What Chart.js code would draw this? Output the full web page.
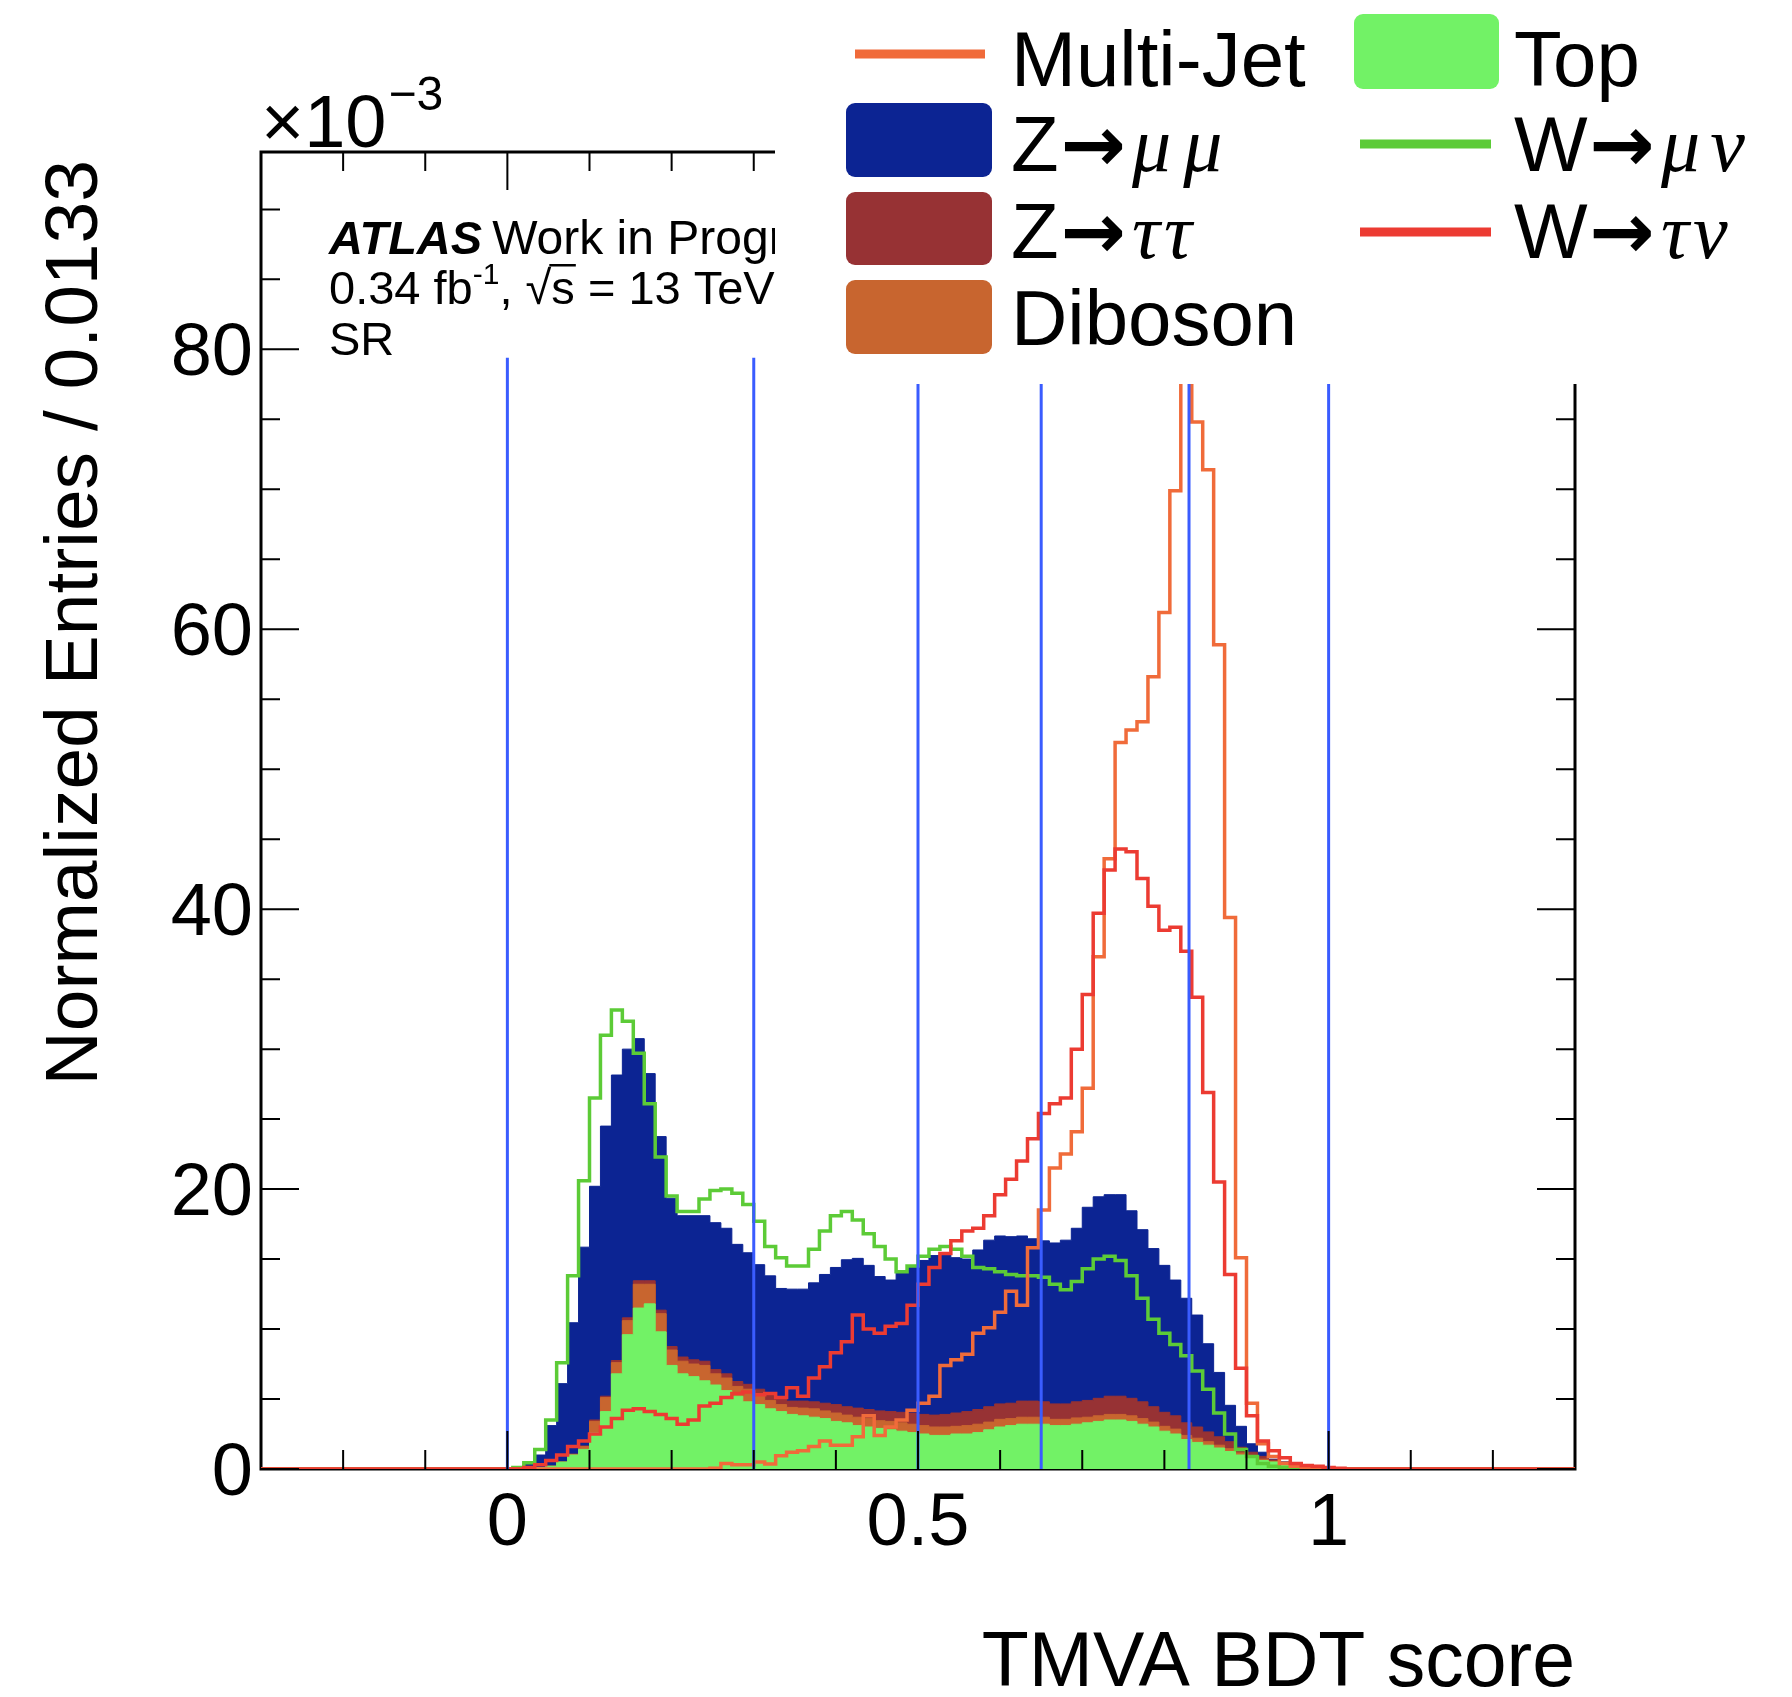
<!DOCTYPE html>
<html lang="en">
<head>
<meta charset="utf-8">
<title>TMVA BDT score</title>
<script src="https://cdn.jsdelivr.net/npm/chart.js@4.4.1/dist/chart.umd.min.js"></script>
<style>
  html, body { margin: 0; padding: 0; background: #fff; }
  #bdtChart { display: block; }
</style>
</head>
<body>
<canvas id="bdtChart" width="1792" height="1697"></canvas>
<script>
'use strict';

// ============================================
// BDT SCORE - normalized entries per bin (x 10^-3)
// 120 bins from -0.3 to 1.3 (width 0.0133)
// ============================================

// ===== AXES =====
const xMin = -0.3;
const xMax = 1.3;
const yMax = 94.1;
const xTickValues = [0, 0.5, 1];
const xTickLabels = ['0', '0.5', '1'];
const yTickValues = [0, 20, 40, 60, 80];
const yTickLabels = ['0', '20', '40', '60', '80'];

// ===== SELECTION CUTS (blue lines) =====
const cutValues = [0, 0.3, 0.5, 0.65, 0.83, 1.0];
const cutLineTop = 79.4;

// ===== STACKED BACKGROUNDS (bottom to top) =====
const topQuark = [
  0, 0, 0, 0, 0, 0, 0, 0, 0, 0, 0, 0, 0, 0, 0, 0, 0, 0, 0, 0,
  0, 0, 0, 0, 0, 0.1, 0.2, 0.5, 1.0, 1.4, 2.6, 4.1, 6.8, 9.6, 11.5, 11.8, 9.8, 7.4, 6.8, 6.6,
  6.3, 6.0, 5.6, 5.2, 4.8, 4.6, 4.3, 4.1, 3.9, 3.8, 3.7, 3.6, 3.4, 3.3, 3.1, 3.0, 2.9, 2.8, 2.7, 2.6,
  2.5, 2.4, 2.4, 2.5, 2.5, 2.6, 2.8, 3.0, 3.1, 3.2, 3.2, 3.2, 3.1, 3.1, 3.2, 3.3, 3.4, 3.5, 3.5, 3.4,
  3.2, 3.0, 2.7, 2.5, 2.1, 1.9, 1.7, 1.5, 1.25, 1.0, 0.8, 0.6, 0.5, 0.4, 0.3, 0.25, 0.2, 0.1, 0.05, 0,
  0, 0, 0, 0, 0, 0, 0, 0, 0, 0, 0, 0, 0, 0, 0, 0, 0, 0, 0, 0
];
const diboson = [
  0, 0, 0, 0, 0, 0, 0, 0, 0, 0, 0, 0, 0, 0, 0, 0, 0, 0, 0, 0,
  0, 0, 0, 0, 0, 0, 0, 0, 0.05, 0.2, 0.8, 1.0, 0.8, 1.0, 1.7, 1.4, 1.3, 1.1, 0.9, 0.9,
  1.1, 0.8, 0.9, 0.7, 0.9, 0.7, 0.6, 0.5, 0.5, 0.55, 0.6, 0.55, 0.6, 0.55, 0.6, 0.6, 0.55, 0.6, 0.6, 0.6,
  0.6, 0.6, 0.6, 0.55, 0.6, 0.6, 0.55, 0.55, 0.5, 0.5, 0.5, 0.5, 0.45, 0.45, 0.45, 0.4, 0.4, 0.4, 0.4, 0.4,
  0.4, 0.35, 0.35, 0.35, 0.3, 0.3, 0.25, 0.2, 0.2, 0.15, 0.1, 0.1, 0.05, 0.05, 0, 0, 0, 0, 0, 0,
  0, 0, 0, 0, 0, 0, 0, 0, 0, 0, 0, 0, 0, 0, 0, 0, 0, 0, 0, 0
];
const zTauTau = [
  0, 0, 0, 0, 0, 0, 0, 0, 0, 0, 0, 0, 0, 0, 0, 0, 0, 0, 0, 0,
  0, 0, 0, 0, 0, 0, 0, 0, 0, 0.05, 0.1, 0.1, 0.15, 0.2, 0.25, 0.25, 0.25, 0.25, 0.3, 0.3,
  0.3, 0.3, 0.3, 0.35, 0.35, 0.4, 0.4, 0.4, 0.45, 0.5, 0.5, 0.55, 0.6, 0.6, 0.65, 0.65, 0.7, 0.7, 0.75, 0.8,
  0.8, 0.85, 0.9, 0.95, 1.0, 1.05, 1.1, 1.1, 1.1, 1.15, 1.15, 1.1, 1.1, 1.1, 1.15, 1.2, 1.25, 1.3, 1.3, 1.25,
  1.2, 1.1, 1.0, 0.95, 0.9, 0.8, 0.7, 0.6, 0.5, 0.4, 0.3, 0.2, 0.1, 0.05, 0, 0, 0, 0, 0, 0,
  0, 0, 0, 0, 0, 0, 0, 0, 0, 0, 0, 0, 0, 0, 0, 0, 0, 0, 0, 0
];
const zMuMu = [
  0, 0, 0, 0, 0, 0, 0, 0, 0, 0, 0, 0, 0, 0, 0, 0, 0, 0, 0, 0,
  0, 0, 0, 0.1, 0.4, 0.9, 2.9, 5.6, 9.4, 14.2, 16.7, 19.3, 20.4, 19.2, 17.3, 14.8, 12.4, 10.6, 10.1, 10.3,
  10.4, 10.5, 10.4, 9.8, 9.4, 8.9, 8.5, 7.9, 8.0, 8.0, 8.5, 9.2, 9.8, 10.5, 10.7, 10.3, 9.6, 9.4, 10.0, 10.5,
  11.0, 11.4, 11.4, 11.1, 10.9, 11.4, 11.9, 12.0, 11.9, 11.8, 11.6, 11.5, 11.5, 11.7, 12.4, 13.8, 14.4, 14.4, 14.4, 13.4,
  12.3, 11.3, 10.5, 9.7, 8.9, 8.0, 6.3, 4.6, 2.6, 1.5, 0.6, 0.3, 0.05, 0, 0, 0, 0, 0, 0, 0,
  0, 0, 0, 0, 0, 0, 0, 0, 0, 0, 0, 0, 0, 0, 0, 0, 0, 0, 0, 0
];

// ===== OVERLAID SHAPES (lines) =====
const multiJet = [
  0, 0, 0, 0, 0, 0, 0, 0, 0, 0, 0, 0, 0, 0, 0, 0, 0, 0, 0, 0,
  0, 0, 0, 0, 0, 0, 0, 0, 0, 0, 0, 0, 0, 0, 0, 0, 0, 0, 0, 0,
  0, 0.05, 0.4, 0.3, 0.3, 0.5, 0.35, 0.95, 1.2, 1.3, 1.6, 2.0, 1.7, 1.7, 2.3, 3.8, 2.4, 3.0, 3.5, 4.2,
  4.7, 5.2, 7.4, 7.8, 8.2, 9.7, 10.1, 11.2, 12.7, 11.7, 15.8, 18.5, 21.5, 22.5, 24.1, 27.2, 36.6, 43.6, 51.9, 52.8,
  53.4, 56.6, 61.2, 69.9, 89.5, 74.8, 71.4, 58.9, 39.4, 15.1, 4.7, 1.8, 0.9, 0.4, 0.2, 0.1, 0, 0, 0, 0,
  0, 0, 0, 0, 0, 0, 0, 0, 0, 0, 0, 0, 0, 0, 0, 0, 0, 0, 0, 0
];
const wMuNu = [
  0, 0, 0, 0, 0, 0, 0, 0, 0, 0, 0, 0, 0, 0, 0, 0, 0, 0, 0, 0,
  0, 0, 0, 0.1, 0.45, 1.4, 3.5, 7.6, 13.8, 20.6, 26.5, 31.0, 32.8, 32.0, 29.7, 26.1, 22.3, 19.5, 18.4, 18.4,
  19.3, 19.9, 20.0, 19.7, 18.9, 17.7, 15.9, 15.1, 14.5, 14.5, 15.7, 17.0, 18.1, 18.4, 17.8, 16.8, 15.9, 15.0, 14.1, 14.5,
  15.2, 15.7, 15.9, 15.7, 15.2, 14.4, 14.3, 14.1, 13.9, 13.8, 13.8, 13.7, 13.2, 12.8, 13.4, 14.3, 15.0, 15.2, 14.9, 13.8,
  12.2, 10.7, 9.7, 8.9, 8.1, 7.0, 5.7, 4.0, 2.5, 1.4, 0.9, 0.4, 0.2, 0.1, 0, 0, 0, 0, 0, 0,
  0, 0, 0, 0, 0, 0, 0, 0, 0, 0, 0, 0, 0, 0, 0, 0, 0, 0, 0, 0
];
const wTauNu = [
  0, 0, 0, 0, 0, 0, 0, 0, 0, 0, 0, 0, 0, 0, 0, 0, 0, 0, 0, 0,
  0, 0, 0, 0, 0.1, 0.3, 0.6, 1.0, 1.6, 2.0, 2.5, 3.0, 3.6, 4.2, 4.3, 4.1, 3.9, 3.6, 3.2, 3.5,
  4.5, 4.7, 5.1, 5.4, 5.5, 5.3, 5.4, 5.1, 5.8, 5.2, 6.5, 7.3, 8.3, 9.1, 11.0, 10.0, 9.7, 10.2, 10.4, 11.7,
  13.2, 14.4, 15.4, 16.3, 17.0, 17.2, 18.1, 19.6, 20.7, 22.0, 23.6, 25.4, 26.1, 26.5, 30.0, 33.9, 39.7, 42.8, 44.3, 44.1,
  42.2, 40.2, 38.5, 38.7, 37.0, 33.7, 26.9, 20.5, 13.9, 7.2, 3.8, 2.0, 1.3, 0.8, 0.4, 0.25, 0.2, 0.1, 0.05, 0,
  0, 0, 0, 0, 0, 0, 0, 0, 0, 0, 0, 0, 0, 0, 0, 0, 0, 0, 0, 0
];

// ===== COULEURS =====
const COL = {
  top: '#72f266',
  diboson: '#c8652f',
  ztautau: '#973234',
  zmumu: '#0c2493',
  multijet: '#f06b3a',
  wmunu: '#5ccb37',
  wtaunu: '#ec3b32',
  cut: '#3a5cff'
};
const SANS = '"Liberation Sans", Arial, sans-serif';
const GREEK = 'italic 78px "Liberation Serif", "DejaVu Serif", serif';
const ARROW = 'bold 78px "DejaVu Sans", sans-serif';

// ===== HISTOGRAM HELPERS =====
// one point per low bin edge, stepped so that each value covers its own bin
function stepPoints(values) {
  const w = (xMax - xMin) / values.length;
  const pts = values.map(function(v, i) { return { x: xMin + i * w, y: v }; });
  pts.push({ x: xMax, y: values[values.length - 1] });
  return pts;
}

function addArrays(a, b) {
  return a.map(function(v, i) { return v + b[i]; });
}

function histFill(label, values, color, order) {
  return {
    label: label, data: stepPoints(values), stepped: true, fill: 'origin',
    backgroundColor: color, borderColor: color, borderWidth: 1, pointRadius: 0, order: order
  };
}

function histLine(label, values, color, order) {
  return {
    label: label, data: stepPoints(values), stepped: true, fill: false,
    borderColor: color, borderWidth: 3.5, pointRadius: 0, order: order
  };
}

// stack sums (drawn from the tallest down, each filled to zero)
const sumTop = topQuark;
const sumDiboson = addArrays(sumTop, diboson);
const sumZtautau = addArrays(sumDiboson, zTauTau);
const sumZmumu = addArrays(sumZtautau, zMuMu);

const datasets = [
  histFill('Z→μμ', sumZmumu, COL.zmumu, 10),
  histFill('Z→ττ', sumZtautau, COL.ztautau, 9),
  histFill('Diboson', sumDiboson, COL.diboson, 8),
  histFill('Top', sumTop, COL.top, 7),
  histLine('W→μν', wMuNu, COL.wmunu, 6),
  histLine('Multi-Jet', multiJet, COL.multijet, 5),
  histLine('W→τν', wTauNu, COL.wtaunu, 4)
];
cutValues.forEach(function(c) {
  datasets.push({
    label: 'cut ' + c,
    data: [{ x: c, y: 0 }, { x: c, y: cutLineTop }],
    borderColor: COL.cut, borderWidth: 3, pointRadius: 0, fill: false, order: 1
  });
});

// ===== TEXT HELPERS =====
function drawParts(ctx, parts, x, y) {
  parts.forEach(function(p) {
    ctx.font = p.font;
    ctx.fillText(p.text, x, y + (p.dy || 0));
    x += ctx.measureText(p.text).width + (p.gap || 0);
  });
  return x;
}

function roundBox(ctx, x, y, w, h, r, color) {
  ctx.fillStyle = color;
  ctx.beginPath();
  ctx.roundRect(x, y, w, h, r);
  ctx.fill();
}

// ===== ROOT STYLE FRAME, TICKS, LABELS, LEGEND =====
const rootFrame = {
  id: 'rootFrame',
  beforeDatasetsDraw: function(chart) {
    const ctx = chart.ctx;
    const a = chart.chartArea;
    ctx.save();
    ctx.strokeStyle = '#000';
    ctx.lineWidth = 3;
    ctx.strokeRect(a.left, a.top, a.right - a.left, a.bottom - a.top);
    ctx.restore();
  },
  afterDatasetsDraw: function(chart) {
    const ctx = chart.ctx;
    const a = chart.chartArea;
    const sx = chart.scales.x;
    const sy = chart.scales.y;
    ctx.save();

    // ticks (inside the frame, on all four sides)
    ctx.strokeStyle = '#000';
    ctx.lineWidth = 2;
    ctx.beginPath();
    for (let i = -2; i <= 12; i++) {
      const v = i / 10;
      const len = xTickValues.indexOf(v) >= 0 ? 38 : 19;
      const px = sx.getPixelForValue(v);
      ctx.moveTo(px, a.bottom); ctx.lineTo(px, a.bottom - len);
      ctx.moveTo(px, a.top); ctx.lineTo(px, a.top + len);
    }
    for (let v = 0; v <= 90; v += 5) {
      const len = yTickValues.indexOf(v) >= 0 ? 38 : 19;
      const py = sy.getPixelForValue(v);
      ctx.moveTo(a.left, py); ctx.lineTo(a.left + len, py);
      ctx.moveTo(a.right, py); ctx.lineTo(a.right - len, py);
    }
    ctx.stroke();

    // tick labels
    ctx.fillStyle = '#000';
    ctx.font = '74px ' + SANS;
    ctx.textAlign = 'center';
    xTickValues.forEach(function(v, i) {
      ctx.fillText(xTickLabels[i], sx.getPixelForValue(v), a.bottom + 76);
    });
    ctx.textAlign = 'right';
    yTickValues.forEach(function(v, i) {
      ctx.fillText(yTickLabels[i], a.left - 8, sy.getPixelForValue(v) + 26);
    });

    // axis titles
    ctx.font = '77px ' + SANS;
    ctx.textAlign = 'right';
    ctx.fillText('TMVA BDT score', a.right, a.bottom + 217);
    ctx.save();
    ctx.translate(97, 160);
    ctx.rotate(-Math.PI / 2);
    ctx.font = '75px ' + SANS;
    ctx.fillText('Normalized Entries / 0.0133', 0, 0);
    ctx.restore();

    // exponent
    ctx.textAlign = 'left';
    const ex = drawParts(ctx, [{ text: '×10', font: '74px ' + SANS, gap: 2 }], a.left, 147);
    drawParts(ctx, [{ text: '\u22123', font: '48px ' + SANS }], ex, 110);

    // ATLAS label
    let tx = drawParts(ctx, [{ text: 'ATLAS', font: 'bold italic 47px ' + SANS, gap: 10 }], 329, 254);
    drawParts(ctx, [{ text: 'Work in Progress', font: '48px ' + SANS }], tx, 254);
    tx = drawParts(ctx, [
      { text: '0.34 fb', font: '47px ' + SANS },
      { text: '-1', font: '30px ' + SANS, dy: -20 },
      { text: ', √', font: '47px ' + SANS }
    ], 329, 304);
    ctx.font = '47px ' + SANS;
    const sW = ctx.measureText('s').width;
    ctx.fillText('s', tx, 304);
    ctx.fillRect(tx - 2, 304 - 40, sW + 3, 2.5);
    drawParts(ctx, [{ text: ' = 13 TeV', font: '47px ' + SANS }], tx + sW, 304);
    drawParts(ctx, [{ text: 'SR', font: '47px ' + SANS }], 329, 355);

    // legend box (white, covers the top right of the frame)
    ctx.fillStyle = '#fff';
    ctx.fillRect(775, 0, chart.width - 775, 384);

    const sans78 = '78px ' + SANS;
    ctx.lineCap = 'butt';
    // column 1
    ctx.strokeStyle = COL.multijet; ctx.lineWidth = 9;
    ctx.beginPath(); ctx.moveTo(855, 54); ctx.lineTo(985, 54); ctx.stroke();
    roundBox(ctx, 846, 103, 146, 74, 9, COL.zmumu);
    roundBox(ctx, 846, 192, 146, 73, 9, COL.ztautau);
    roundBox(ctx, 846, 280, 146, 74, 9, COL.diboson);
    ctx.fillStyle = '#000';
    drawParts(ctx, [{ text: 'Multi-Jet', font: sans78 }], 1011, 86);
    drawParts(ctx, [
      { text: 'Z', font: sans78, gap: 2 }, { text: '→', font: ARROW, gap: 6 },
      { text: 'μ', font: GREEK, gap: 12 }, { text: 'μ', font: GREEK }
    ], 1011, 171);
    drawParts(ctx, [
      { text: 'Z', font: sans78, gap: 2 }, { text: '→', font: ARROW, gap: 6 },
      { text: 'τ', font: GREEK, gap: 4 }, { text: 'τ', font: GREEK }
    ], 1011, 258);
    drawParts(ctx, [{ text: 'Diboson', font: sans78 }], 1011, 345);

    // column 2
    roundBox(ctx, 1354, 14, 145, 75, 9, COL.top);
    ctx.lineWidth = 9;
    ctx.strokeStyle = COL.wmunu;
    ctx.beginPath(); ctx.moveTo(1360, 144); ctx.lineTo(1491, 144); ctx.stroke();
    ctx.strokeStyle = COL.wtaunu;
    ctx.beginPath(); ctx.moveTo(1360, 232); ctx.lineTo(1491, 232); ctx.stroke();
    ctx.fillStyle = '#000';
    drawParts(ctx, [{ text: 'Top', font: sans78 }], 1514, 86);
    drawParts(ctx, [
      { text: 'W', font: sans78, gap: 2 }, { text: '→', font: ARROW, gap: 6 },
      { text: 'μ', font: GREEK, gap: 10 }, { text: 'ν', font: GREEK }
    ], 1514, 171);
    drawParts(ctx, [
      { text: 'W', font: sans78, gap: 2 }, { text: '→', font: ARROW, gap: 6 },
      { text: 'τ', font: GREEK, gap: 4 }, { text: 'ν', font: GREEK }
    ], 1514, 258);

    ctx.restore();
  }
};

// ===== CHART =====
document.addEventListener('DOMContentLoaded', function() {
  const canvas = document.getElementById('bdtChart');
  new Chart(canvas, {
    type: 'line',
    data: { datasets: datasets },
    options: {
      responsive: false,
      animation: false,
      devicePixelRatio: 1,
      events: [],
      layout: { padding: { left: 261, right: 217, top: 152, bottom: 228 } },
      scales: {
        x: { type: 'linear', min: xMin, max: xMax, display: false },
        y: { type: 'linear', min: 0, max: yMax, display: false }
      },
      elements: { line: { tension: 0 }, point: { radius: 0 } },
      plugins: { legend: { display: false }, tooltip: { enabled: false } }
    },
    plugins: [rootFrame]
  });
});
</script>
</body>
</html>
